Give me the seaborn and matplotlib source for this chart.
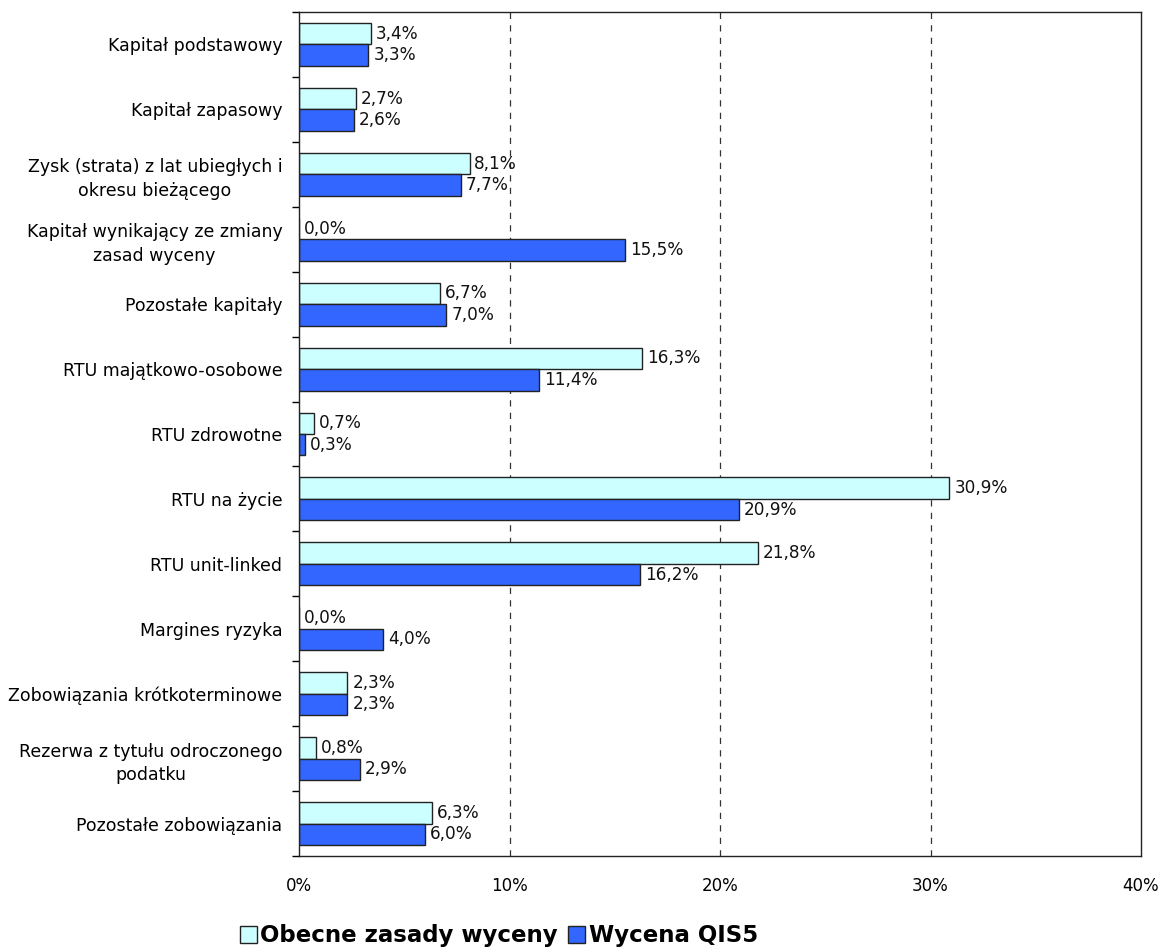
import matplotlib
matplotlib.use("Agg")
import matplotlib.pyplot as plt
import seaborn as sns
import pandas as pd
from matplotlib.patches import Patch
from matplotlib.ticker import FixedLocator

categories = [
    "Kapitał podstawowy",
    "Kapitał zapasowy",
    "Zysk (strata) z lat ubiegłych i\nokresu bieżącego",
    "Kapitał wynikający ze zmiany\nzasad wyceny",
    "Pozostałe kapitały",
    "RTU majątkowo-osobowe",
    "RTU zdrowotne",
    "RTU na życie",
    "RTU unit-linked",
    "Margines ryzyka",
    "Zobowiązania krótkoterminowe",
    "Rezerwa z tytułu odroczonego\npodatku",
    "Pozostałe zobowiązania",
]
series_names = ["Obecne zasady wyceny", "Wycena QIS5"]
obecne = [3.4, 2.7, 8.1, 0.0, 6.7, 16.3, 0.7, 30.9, 21.8, 0.0, 2.3, 0.8, 6.3]
qis5 = [3.3, 2.6, 7.7, 15.5, 7.0, 11.4, 0.3, 20.9, 16.2, 4.0, 2.3, 2.9, 6.0]
xticks = [0, 10, 20, 30, 40]
colors = ["#CCFFFF", "#3366FF"]

df = pd.DataFrame({
    "cat": categories * 2,
    "val": obecne + qis5,
    "series": [series_names[0]] * len(categories) + [series_names[1]] * len(categories),
})

sns.set_style("white")
plt.rcParams["font.family"] = ["DejaVu Sans"]
plt.rcParams["text.color"] = "#000000"
plt.rcParams["xtick.color"] = "#000000"
plt.rcParams["ytick.color"] = "#000000"

fig = plt.figure(figsize=(11.63, 9.52), dpi=100)
ax = fig.add_axes([299 / 1163, 1 - 856 / 952, (1141 - 299) / 1163, (856 - 12) / 952])

sns.barplot(data=df, y="cat", x="val", hue="series", orient="h",
            palette=colors, width=0.66, gap=0, edgecolor="#222222",
            linewidth=1.0, ax=ax, legend=False, saturation=1)

for cont, vals in zip(ax.containers, [obecne, qis5]):
    ax.bar_label(cont, labels=[f"{v:.1f}".replace(".", ",") + "%" for v in vals],
                 padding=3.5, fontsize=12.2, color="#111111")

ax.set_xlim(0, 40)
ax.set_ylim(len(categories) - 0.5, -0.5)
ax.set_xticks(xticks)
ax.set_xticklabels([f"{t}%" for t in xticks], fontsize=12)
ax.tick_params(axis="x", length=0, pad=15)
ax.set_yticks(range(len(categories)))
ax.set_yticklabels(categories, fontsize=12.5, ha="right", multialignment="center",
                   linespacing=1.4)
ax.tick_params(axis="y", which="major", length=0, pad=12)
ax.yaxis.set_minor_locator(FixedLocator([i + 0.5 for i in range(-1, len(categories))]))
ax.tick_params(axis="y", which="minor", length=5, width=1, color="#000000", left=True)
ax.set_xlabel("")
ax.set_ylabel("")

for t in [10, 20, 30]:
    ax.axvline(t, color="#333333", linestyle=(0, (5, 5)), linewidth=0.9, zorder=0)

for s in ax.spines.values():
    s.set_visible(True)
    s.set_color("#222222")
    s.set_linewidth(1.0)

handles = [Patch(facecolor=c, edgecolor="#222222", linewidth=1.0) for c in colors]
fig.legend(handles, series_names, loc="center", bbox_to_anchor=(0.429, 0.017),
           ncol=2, frameon=False, handlelength=0.75, handleheight=0.75,
           handletextpad=0.15, columnspacing=0.45,
           prop={"weight": "bold", "size": 16.5})

fig.savefig("out.png", dpi=100)
